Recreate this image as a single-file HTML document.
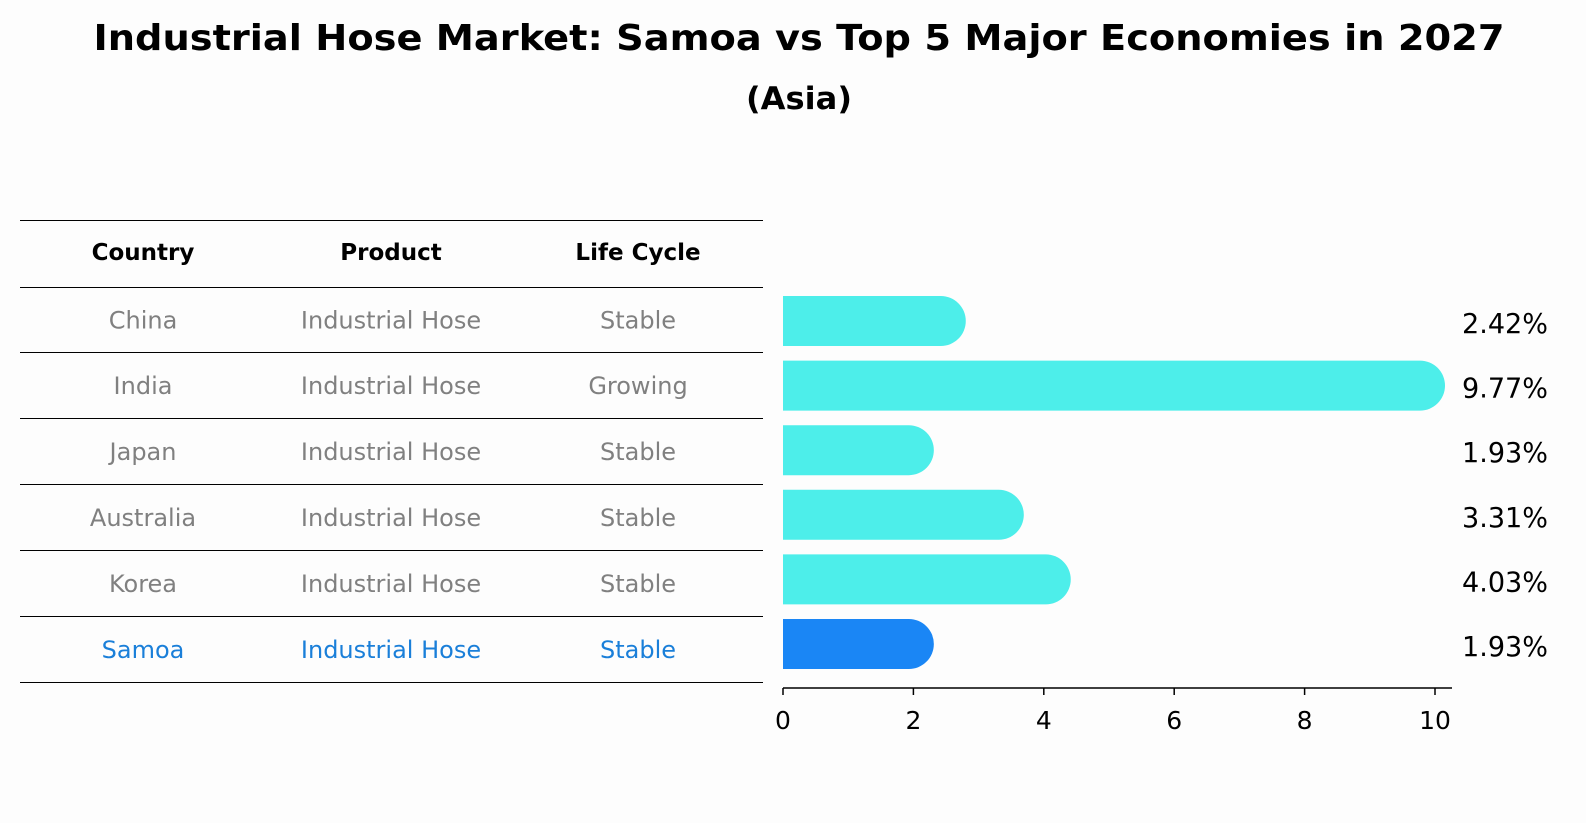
<!DOCTYPE html>
<html><head><meta charset="utf-8"><style>
body{margin:0;background:#fdfdfd;}
svg{display:block;font-family:"DejaVu Sans","Liberation Sans",sans-serif;}
</style></head><body>
<svg id="c" width="1586" height="823">
<rect width="1586" height="823" fill="#fdfdfd"/>
<text x="799" y="50" text-anchor="middle" font-size="36" font-weight="bold" textLength="1411" lengthAdjust="spacingAndGlyphs">Industrial Hose Market: Samoa vs Top 5 Major Economies in 2027</text>
<text x="799" y="109" text-anchor="middle" font-size="31" font-weight="bold" textLength="106" lengthAdjust="spacingAndGlyphs">(Asia)</text>
<g id="tbl"></g>
<g id="bars"></g>
</svg>
<script>
const countries=["China","India","Japan","Australia","Korea","Samoa"];
const products=["Industrial Hose","Industrial Hose","Industrial Hose","Industrial Hose","Industrial Hose","Industrial Hose"];
const lifecycle=["Stable","Growing","Stable","Stable","Stable","Stable"];
const values=[2.42,9.77,1.93,3.31,4.03,1.93];
const labels=["2.42%","9.77%","1.93%","3.31%","4.03%","1.93%"];
const ticks=[0,2,4,6,8,10];
const NS="http://www.w3.org/2000/svg";
function mk(t,a,p,txt){const e=document.createElementNS(NS,t);for(const k in a)e.setAttribute(k,a[k]);if(txt!==undefined)e.textContent=txt;p.appendChild(e);return e;}
const tbl=document.getElementById('tbl'),bars=document.getElementById('bars');
const xs=v=>783+v*65.2;
const rowY=i=>321+i*64.6;
const lineYs=[220,287,352,418,484,550,616,682];
lineYs.forEach((y,i)=>{const l=mk('line',{x1:20,x2:763,y1:y+0.5,y2:y+0.5,stroke:'#000','stroke-width':1},tbl);

});
const colX=[143,391,638];
["Country","Product","Life Cycle"].forEach((h,i)=>{const t=mk('text',{x:colX[i],y:260,'text-anchor':'middle','font-size':23,'font-weight':'bold'},tbl,h);

});
countries.forEach((c,i)=>{const y=(lineYs[i+1]+lineYs[i+2])/2+9;const col=c==="Samoa"?"#1a7fd9":"#808080";
[c,products[i],lifecycle[i]].forEach((v,j)=>{const t=mk('text',{x:colX[j],y:y,'text-anchor':'middle','font-size':24,fill:col},tbl,v);

});});
values.forEach((v,i)=>{const cy=rowY(i),h=50,r=25;const col=countries[i]==="Samoa"?"#1a86f5":"#4deeea";
const x0=xs(0),x1=xs(v);
const p=mk('path',{d:`M${x0},${cy-h/2}H${x1}A${r},${r} 0 0 1 ${x1},${cy+h/2}H${x0}Z`,fill:col},bars);


const t=mk('text',{x:1462,y:cy+12,'font-size':28,textLength:86,lengthAdjust:'spacingAndGlyphs'},bars,labels[i]);

});
const ax=mk('line',{x1:783,x2:1452,y1:688,y2:688,stroke:'#000','stroke-width':1.5},bars);


ticks.forEach(v=>{const tk=mk('line',{x1:xs(v),x2:xs(v),y1:688,y2:695,stroke:'#000','stroke-width':1.5},bars);


const t=mk('text',{x:xs(v),y:729,'text-anchor':'middle','font-size':25},bars,String(v));

});
</script>
</body></html>
